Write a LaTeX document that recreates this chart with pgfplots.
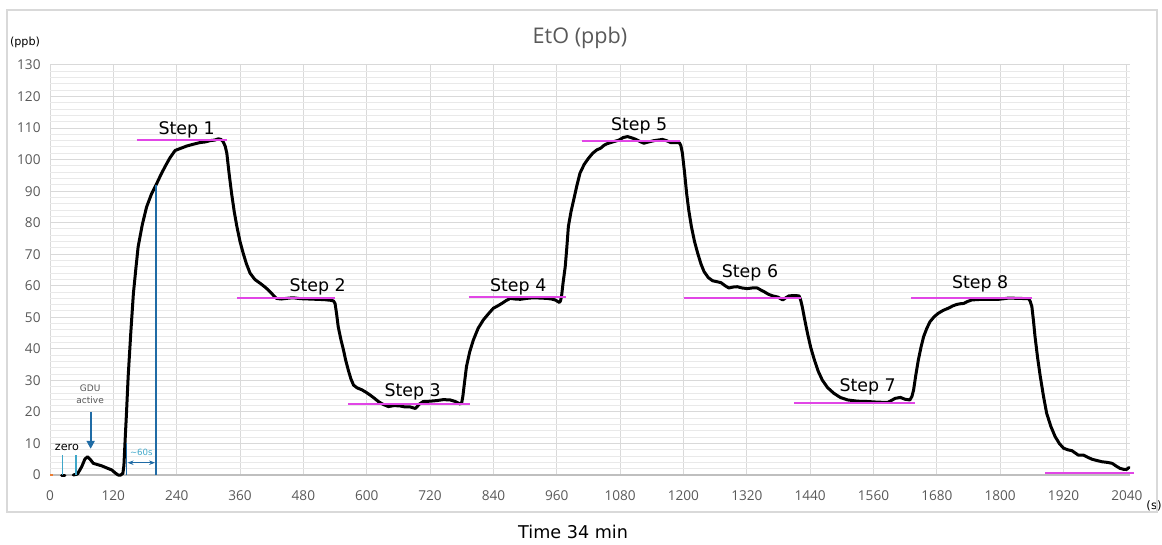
\documentclass[border=0pt]{standalone}
\usepackage{pgfplots}
\pgfplotsset{compat=1.18}
\usepackage{fontspec}
\setmainfont{DejaVu Sans}
\newfontfamily\tickfont{Open Sans}
\usetikzlibrary{arrows.meta}

\definecolor{gridmaj}{HTML}{D9D9D9}
\definecolor{gridmin}{HTML}{E9E9E9}
\definecolor{axisgray}{HTML}{BFBFBF}
\definecolor{txtgray}{HTML}{595959}
\definecolor{stepmag}{RGB}{225,70,230}
\definecolor{annblue}{HTML}{1F6BA5}
\definecolor{annteal}{HTML}{3FA7C9}
\definecolor{xlorange}{HTML}{ED7D31}

\begin{document}
\begin{tikzpicture}
\begin{axis}[
  scale only axis,
  width=540pt, height=205pt,
  xmin=0, xmax=2046, ymin=0, ymax=130,
  xtick distance=120, ytick distance=10,
  minor y tick num=4,
  grid=both,
  major grid style={gridmaj, line width=0.5pt},
  minor grid style={gridmin, line width=0.5pt},
  axis line style={draw=none},
  major tick length=0pt, minor tick length=0pt,
  tick label style={font=\tickfont\fontsize{6.8}{8}\selectfont, text=txtgray},
  xticklabel style={anchor=center, yshift=-10.5pt},
  yticklabel style={anchor=east, xshift=-1.2pt},
  /pgf/number format/assume math mode=true,
  /pgf/number format/1000 sep={},
  scaled ticks=false,
  clip=false,
]
% axis line at zero
\draw[axisgray, line width=0.6pt] (axis cs:0,0) -- (axis cs:2046,0);

% small orange series at the start
\addplot[xlorange, line width=1pt] coordinates {(0,0) (6,0)};

% measured EtO (ppb)
\addplot[black, line width=1.5pt, line join=round, line cap=round] coordinates {(22,0) (28,0)};
\addplot[black, line width=1.5pt, line join=round, line cap=round] coordinates {
  (44,0) (52,0.3) (60,2.6) (66,5) (71,5.8) (76,5) (82,3.7) (90,3.3) (98,2.9)
  (108,2.2) (117,1.6) (124,0.6) (129,0) (134,0) (138,0.5) (140,3) (142,10)
  (145,20) (148,31) (153,45) (158,57.6) (163,66) (167,72.4) (175,79.5)
  (183,85) (192,89) (201,92) (210,95.2) (218,97.8) (227,100.5) (237,102.9)
  (248,103.6) (259,104.3) (272,104.9) (284,105.4) (294,105.6) (303,106)
  (312,106.2) (319,106.6) (324,106.4) (328,105.7) (332,104.2) (335,102)
  (339,96) (344,89.3) (349,83.5) (354,78.8) (360,74) (366,70.3) (372,67)
  (379,64) (388,62) (398,60.8) (408,59.5) (417,58.1) (423,57) (429,56)
  (438,55.8) (448,56) (460,56.2) (475,55.9) (490,55.8) (505,55.7) (520,55.6)
  (531,55.4) (537,55.2) (540,54.4) (543,51) (546,47) (551,43) (556,39.6)
  (560,36.5) (565,33.3) (570,30.5) (575,28.5) (582,27.6) (591,27) (598,26.3)
  (606,25.4) (614,24.4) (622,23.3) (631,22.4) (641,21.7) (652,22) (663,21.9)
  (672,21.6) (682,21.6) (692,21.1) (700,22.5) (707,23.3) (720,23.4)
  (733,23.6) (745,23.9) (758,23.8) (768,23.3) (777,22.5) (780,23) (782,24.8)
  (785,29) (789,34.4) (795,39) (802,42.8) (811,46.5) (821,49.2) (830,51)
  (840,52.9) (848,53.6) (856,54.4) (864,55.3) (872,56) (881,55.8) (891,55.7)
  (903,56) (916,56.2) (928,56.1) (941,56) (950,55.8) (957,55.5) (962,55)
  (965,54.7) (967,55.2) (969,56.6) (972,61) (976,66) (979,72) (982,78.8)
  (987,83.5) (992,87.2) (998,91.7) (1004,95.7) (1012,98.5) (1020,100.4)
  (1028,102) (1036,103.1) (1043,103.6) (1050,104.6) (1055,105) (1062,105.4)
  (1070,105.8) (1078,106.2) (1086,107) (1094,107.3) (1102,106.9) (1110,106.4)
  (1118,105.7) (1125,105.2) (1134,105.6) (1144,106) (1152,106.2) (1160,106.4)
  (1168,106) (1176,105.4) (1185,105.4) (1192,105.4) (1195,104.5) (1198,102)
  (1202,96) (1206,89.3) (1210,84) (1215,78.8) (1221,74) (1227,70.3) (1233,67)
  (1239,64.5) (1247,62.6) (1255,61.6) (1263,61.3) (1271,61) (1279,60)
  (1286,59.3) (1294,59.6) (1302,59.7) (1311,59.3) (1321,59.1) (1330,59.3)
  (1340,59.3) (1347,58.6) (1353,58.1) (1361,57.3) (1369,56.8) (1379,56.4)
  (1388,55.5) (1394,56.2) (1400,56.8) (1410,56.9) (1419,56.8) (1422,55.5)
  (1425,53.4) (1430,49) (1435,44.9) (1441,40.5) (1448,36.5) (1455,33)
  (1463,30.1) (1473,27.7) (1485,25.9) (1497,24.6) (1511,23.8) (1530,23.4)
  (1549,23.3) (1568,23.1) (1587,23) (1601,24.3) (1611,24.6) (1620,24)
  (1629,23.8) (1633,25) (1636,27) (1640,31.5) (1645,36.5) (1650,40.5)
  (1655,43.9) (1661,46.5) (1667,48.6) (1675,50.2) (1683,51.3) (1692,52.2)
  (1702,52.9) (1710,53.6) (1718,54.1) (1725,54.3) (1731,54.4) (1738,55)
  (1746,55.5) (1755,55.6) (1765,55.7) (1781,55.7) (1797,55.7) (1807,55.9)
  (1816,56.1) (1835,56) (1854,55.9) (1857,55) (1860,53.4) (1863,49)
  (1866,43.9) (1871,37) (1876,31.2) (1882,25) (1888,19.6) (1896,15.4)
  (1904,12.2) (1912,10) (1920,8.5) (1928,8) (1936,7.7) (1942,7) (1948,6.3)
  (1958,6.3) (1966,5.6) (1974,5) (1983,4.6) (1993,4.2) (2003,4) (2012,3.7)
  (2020,2.8) (2027,2.1) (2034,1.8) (2040,1.8) (2044,2.4)
};

% step set-points
\addplot[stepmag, line width=1pt] coordinates {(164,106.1) (335,106.1)};
\addplot[stepmag, line width=1pt] coordinates {(354,56.1) (540,56.1)};
\addplot[stepmag, line width=1pt] coordinates {(565,22.5) (796,22.5)};
\addplot[stepmag, line width=1pt] coordinates {(793,56.3) (978,56.3)};
\addplot[stepmag, line width=1pt] coordinates {(1007,106) (1194,106)};
\addplot[stepmag, line width=1pt] coordinates {(1201,56.1) (1422,56.1)};
\addplot[stepmag, line width=1pt] coordinates {(1410,22.9) (1639,22.9)};
\addplot[stepmag, line width=1pt] coordinates {(1631,56.1) (1861,56.1)};
\addplot[stepmag, line width=1pt] coordinates {(1885,0.7) (2054,0.7)};

\begin{scope}[font=\fontsize{8.7}{10}\selectfont]
\node at (axis cs:259,109.5) {Step 1};
\node at (axis cs:507,59.8) {Step 2};
\node at (axis cs:687,26.4) {Step 3};
\node at (axis cs:887,59.8) {Step 4};
\node at (axis cs:1116,110.8) {Step 5};
\node at (axis cs:1326,64) {Step 6};
\node at (axis cs:1549,27.9) {Step 7};
\node at (axis cs:1762,60.6) {Step 8};
\end{scope}

% response-time annotation
\addplot[annblue, line width=0.8pt] coordinates {(145,0) (145,10)};
\addplot[annblue, line width=0.8pt] coordinates {(201,0) (201,92)};
\draw[annblue, line width=0.6pt, {Stealth[length=3pt]}-{Stealth[length=3pt]}]
  (axis cs:147,3.9) -- (axis cs:199,3.9);
\node[annteal, font=\fontsize{4.3}{5}\selectfont] at (axis cs:173,7.2) {\string~60s};

% zero / GDU active
\addplot[annteal, line width=0.8pt] coordinates {(24,0) (24,6.3)};
\addplot[annteal, line width=0.8pt] coordinates {(49,0) (49,6.3)};
\node[font=\fontsize{5.6}{6}\selectfont] at (axis cs:32,8.6) {zero};
\draw[annblue, line width=1pt, -{Triangle[length=4pt,width=4pt]}]
  (axis cs:77,20) -- (axis cs:77,8.3);
\node[txtgray, align=center, font=\fontsize{4.5}{6}\selectfont] at (axis cs:76,25.5) {GDU\\active};

% titles and units
\node[txtgray, font=\tickfont\fontsize{10.8}{12}\selectfont] at (rel axis cs:0.4907,1.0659) {EtO (ppb)};
\node[font=\fontsize{5.6}{7}\selectfont] at (rel axis cs:-0.0231,1.056) {(ppb)};
\node[font=\fontsize{5.8}{7}\selectfont] at (rel axis cs:1.0222,-0.0756) {(s)};
\node[font=\fontsize{8.8}{10}\selectfont] at (rel axis cs:0.4843,-0.139) {Time 34 min};

\draw[gridmaj, line width=0.6pt] (rel axis cs:-0.0398,-0.0902) rectangle (rel axis cs:1.025,1.1341);

\coordinate (bbl) at (rel axis cs:-0.0463,-0.1683);
\coordinate (btr) at (rel axis cs:1.0296,1.1585);
\end{axis}
\pgfresetboundingbox
\useasboundingbox (bbl) rectangle (btr);
\end{tikzpicture}
\end{document}
